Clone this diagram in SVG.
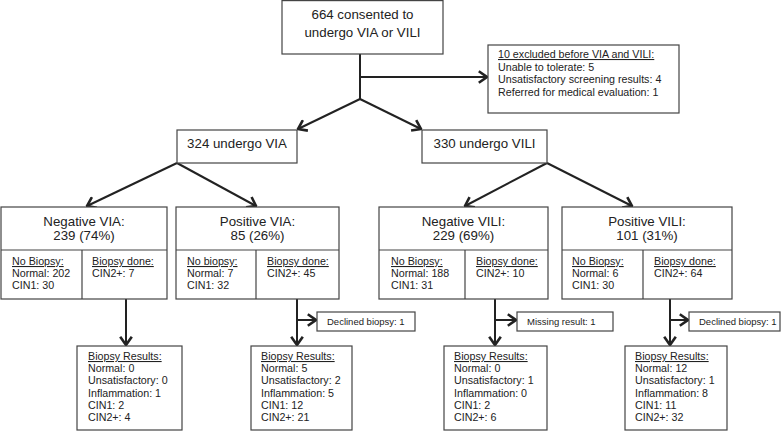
<svg xmlns="http://www.w3.org/2000/svg" width="782" height="432" viewBox="0 0 782 432">
<defs>
<marker id="arr" viewBox="0 0 11 14" refX="9.5" refY="7" markerWidth="11" markerHeight="14" markerUnits="userSpaceOnUse" orient="auto">
<path d="M1.3,1.2 L9.5,7 L1.3,12.8" fill="none" stroke="#222" stroke-width="2.6" stroke-linejoin="miter"/>
</marker>
<style>
.box{fill:#fff;stroke:#444;stroke-width:1.2}
.div{stroke:#444;stroke-width:1.2;fill:none}
.t{font-family:"Liberation Sans",Arial,sans-serif;fill:#222}
.big{font-size:13.3px;text-anchor:middle}
.sm{font-size:10.7px}
.xs{font-size:9.5px}
.u{text-decoration:underline}
.c{stroke:#222;stroke-width:2;fill:none}
.ca{stroke:#222;stroke-width:2;fill:none;marker-end:url(#arr)}
</style>
</defs>
<rect width="782" height="432" fill="#fff"/>

<g id="connectors">
<line class="c" x1="360" y1="54" x2="360" y2="99"/>
<line class="ca" x1="360" y1="77" x2="487" y2="77"/>
<line class="ca" x1="360" y1="99" x2="298" y2="129"/>
<line class="ca" x1="360" y1="99" x2="421" y2="129"/>
<line class="ca" x1="177" y1="163" x2="87" y2="206"/>
<line class="ca" x1="177" y1="163" x2="256" y2="206"/>
<line class="ca" x1="547" y1="163" x2="465" y2="206"/>
<line class="ca" x1="547" y1="163" x2="632" y2="206"/>
<line class="ca" x1="126" y1="299" x2="126" y2="345"/>
<line class="ca" x1="297" y1="299" x2="297" y2="345"/>
<line class="ca" x1="297" y1="320" x2="316" y2="320"/>
<line class="ca" x1="495" y1="299" x2="495" y2="345"/>
<line class="ca" x1="495" y1="320" x2="516" y2="320"/>
<line class="ca" x1="670" y1="299" x2="670" y2="345"/>
<line class="ca" x1="670" y1="320" x2="688" y2="320"/>
</g>

<g id="consented">
<rect class="box" x="282" y="0.6" width="161" height="53.4"/>
<text class="t big" x="362.5" y="19">664 consented to</text>
<text class="t big" x="362.5" y="36.5">undergo VIA or VILI</text>
</g>

<g id="excluded">
<rect class="box" x="488" y="45" width="191" height="68"/>
<text class="t sm u" x="498" y="58">10 excluded before VIA and VILI:</text>
<text class="t sm" x="498" y="70.5">Unable to tolerate: 5</text>
<text class="t sm" x="498" y="83">Unsatisfactory screening results: 4</text>
<text class="t sm" x="498" y="95.5">Referred for medical evaluation: 1</text>
</g>

<g id="via">
<rect class="box" x="177" y="130" width="120" height="33"/>
<text class="t big" x="237" y="148">324 undergo VIA</text>
</g>

<g id="vili">
<rect class="box" x="422" y="130" width="125" height="33"/>
<text class="t big" x="484.5" y="148">330 undergo VILI</text>
</g>

<g id="neg-via">
<rect class="box" x="1" y="207" width="166" height="92"/>
<line class="div" x1="1" y1="250" x2="167" y2="250"/>
<line class="div" x1="82" y1="250" x2="82" y2="299"/>
<text class="t big" x="84" y="226">Negative VIA:</text>
<text class="t big" x="84" y="240">239 (74%)</text>
<text class="t sm u" x="12" y="265">No Biopsy:</text>
<text class="t sm" x="12" y="277">Normal: 202</text>
<text class="t sm" x="12" y="289">CIN1: 30</text>
<text class="t sm u" x="92" y="265">Biopsy done:</text>
<text class="t sm" x="92" y="277">CIN2+: 7</text>
</g>

<g id="pos-via">
<rect class="box" x="176" y="207" width="163" height="92"/>
<line class="div" x1="176" y1="250" x2="339" y2="250"/>
<line class="div" x1="256" y1="250" x2="256" y2="299"/>
<text class="t big" x="257.5" y="226">Positive VIA:</text>
<text class="t big" x="257.5" y="240">85 (26%)</text>
<text class="t sm u" x="187" y="265">No biopsy:</text>
<text class="t sm" x="187" y="277">Normal: 7</text>
<text class="t sm" x="187" y="289">CIN1: 32</text>
<text class="t sm u" x="267" y="265">Biopsy done:</text>
<text class="t sm" x="267" y="277">CIN2+: 45</text>
</g>

<g id="neg-vili">
<rect class="box" x="379" y="207" width="169" height="92"/>
<line class="div" x1="379" y1="250" x2="548" y2="250"/>
<line class="div" x1="465" y1="250" x2="465" y2="299"/>
<text class="t big" x="463.5" y="226">Negative VILI:</text>
<text class="t big" x="463.5" y="240">229 (69%)</text>
<text class="t sm u" x="391" y="265">No Biopsy:</text>
<text class="t sm" x="391" y="277">Normal: 188</text>
<text class="t sm" x="391" y="289">CIN1: 31</text>
<text class="t sm u" x="476" y="265">Biopsy done:</text>
<text class="t sm" x="476" y="277">CIN2+: 10</text>
</g>

<g id="pos-vili">
<rect class="box" x="562" y="207" width="170" height="92"/>
<line class="div" x1="562" y1="250" x2="732" y2="250"/>
<line class="div" x1="643" y1="250" x2="643" y2="299"/>
<text class="t big" x="647" y="226">Positive VILI:</text>
<text class="t big" x="647" y="240">101 (31%)</text>
<text class="t sm u" x="572" y="265">No Biopsy:</text>
<text class="t sm" x="572" y="277">Normal: 6</text>
<text class="t sm" x="572" y="289">CIN1: 30</text>
<text class="t sm u" x="654" y="265">Biopsy done:</text>
<text class="t sm" x="654" y="277">CIN2+: 64</text>
</g>

<g id="declined-via">
<rect class="box" x="317" y="312" width="98" height="19"/>
<text class="t xs" x="327" y="325">Declined biopsy: 1</text>
</g>

<g id="missing-vili">
<rect class="box" x="517" y="312" width="96" height="19"/>
<text class="t xs" x="527" y="325">Missing result: 1</text>
</g>

<g id="declined-vili">
<rect class="box" x="689" y="312" width="91" height="19"/>
<text class="t xs" x="699" y="325">Declined biopsy: 1</text>
</g>

<g id="results-neg-via">
<rect class="box" x="77" y="346" width="105" height="84"/>
<text class="t sm u" x="88" y="360">Biopsy Results:</text>
<text class="t sm" x="88" y="372.2">Normal: 0</text>
<text class="t sm" x="88" y="384.4">Unsatisfactory: 0</text>
<text class="t sm" x="88" y="396.6">Inflammation: 1</text>
<text class="t sm" x="88" y="408.8">CIN1: 2</text>
<text class="t sm" x="88" y="421">CIN2+: 4</text>
</g>

<g id="results-pos-via">
<rect class="box" x="251" y="346" width="101" height="84"/>
<text class="t sm u" x="261" y="360">Biopsy Results:</text>
<text class="t sm" x="261" y="372.2">Normal: 5</text>
<text class="t sm" x="261" y="384.4">Unsatisfactory: 2</text>
<text class="t sm" x="261" y="396.6">Inflammation: 5</text>
<text class="t sm" x="261" y="408.8">CIN1: 12</text>
<text class="t sm" x="261" y="421">CIN2+: 21</text>
</g>

<g id="results-neg-vili">
<rect class="box" x="444" y="346" width="103" height="84"/>
<text class="t sm u" x="454" y="360">Biopsy Results:</text>
<text class="t sm" x="454" y="372.2">Normal: 0</text>
<text class="t sm" x="454" y="384.4">Unsatisfactory: 1</text>
<text class="t sm" x="454" y="396.6">Inflammation: 0</text>
<text class="t sm" x="454" y="408.8">CIN1: 2</text>
<text class="t sm" x="454" y="421">CIN2+: 6</text>
</g>

<g id="results-pos-vili">
<rect class="box" x="625" y="346" width="102" height="84"/>
<text class="t sm u" x="635" y="360">Biopsy Results:</text>
<text class="t sm" x="635" y="372.2">Normal: 12</text>
<text class="t sm" x="635" y="384.4">Unsatisfactory: 1</text>
<text class="t sm" x="635" y="396.6">Inflammation: 8</text>
<text class="t sm" x="635" y="408.8">CIN1: 11</text>
<text class="t sm" x="635" y="421">CIN2+: 32</text>
</g>
</svg>
